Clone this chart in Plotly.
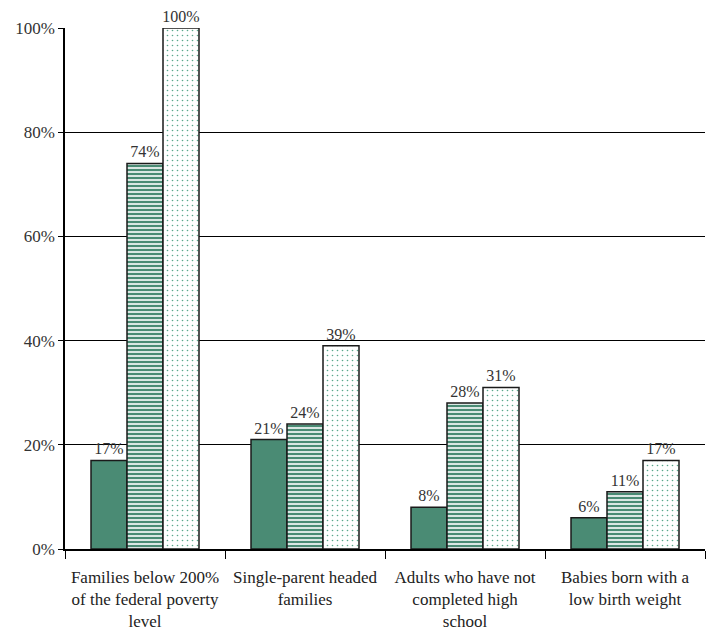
import plotly.graph_objects as go

categories = [
    "Families below 200%<br>of the federal poverty<br>level",
    "Single-parent headed<br>families",
    "Adults who have not<br>completed high<br>school",
    "Babies born with a<br>low birth weight",
]
series_a = [17, 21, 8, 6]
series_b = [74, 24, 28, 11]
series_c = [100, 39, 31, 17]

GREEN = "#4a8b74"
FONT = "Liberation Serif"

fig = go.Figure()
fig.add_trace(go.Bar(
    x=categories, y=series_a,
    marker=dict(color=GREEN, line=dict(color="#1a1a1a", width=1.5)),
    text=[f"{v}%" for v in series_a], textposition="outside",
    cliponaxis=False,
))
fig.add_trace(go.Bar(
    x=categories, y=series_b,
    marker=dict(color=GREEN, line=dict(color="#1a1a1a", width=1.5),
                pattern=dict(shape="-", fgcolor=GREEN, bgcolor="white",
                             size=4, solidity=0.6, fgopacity=1)),
    text=[f"{v}%" for v in series_b], textposition="outside",
    cliponaxis=False,
))
fig.add_trace(go.Bar(
    x=categories, y=series_c,
    marker=dict(color="white", line=dict(color="#1a1a1a", width=1.5),
                pattern=dict(shape=".", fgcolor="#5aa88c", bgcolor="white",
                             size=5, solidity=0.08, fgopacity=1)),
    text=[f"{v}%" for v in series_c], textposition="outside",
    cliponaxis=False,
))

fig.update_traces(textfont=dict(family=FONT, size=16, color="#333333"))

fig.update_layout(
    width=708, height=633,
    margin=dict(l=65, r=3, t=28, b=84),
    paper_bgcolor="white", plot_bgcolor="white",
    barmode="group", bargap=0.325, bargroupgap=0,
    showlegend=False,
    uniformtext=dict(minsize=16, mode="show"),
    font=dict(family=FONT, size=17, color="#222222"),
    yaxis=dict(
        range=[0, 100], tickvals=[0, 20, 40, 60, 80, 100],
        ticktext=["0%", "20%", "40%", "60%", "80%", "100%"],
        showgrid=True, gridcolor="black", gridwidth=1,
        showline=True, linecolor="black", linewidth=1.5,
        ticks="outside", ticklen=5, tickcolor="black",
        zeroline=False, automargin=False,
        tickfont=dict(family=FONT, size=17, color="#333333"),
    ),
    xaxis=dict(
        showline=True, linecolor="black", linewidth=1.5,
        ticks="outside", ticklen=8, tickcolor="black", tickson="boundaries",
        tickangle=0, automargin=False, ticklabelstandoff=12,
        tickfont=dict(family=FONT, size=17, color="#222222"),
    ),
)

fig.write_html("out.html")
